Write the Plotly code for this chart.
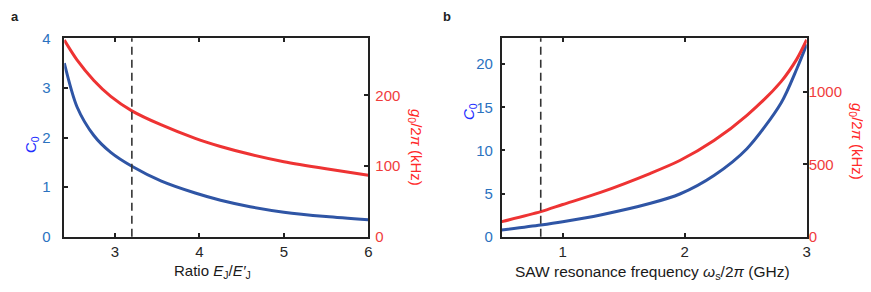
import plotly.graph_objects as go

# ---------------- data ----------------
# panel a: ratio E_J/E'_J
ratio_x = [2.4, 2.55, 2.75, 2.95, 3.2, 3.55, 3.95, 4.25, 4.6, 5.0, 5.5, 6.0]
c0_a = [3.50, 2.62, 2.04, 1.70, 1.42, 1.12, 0.88, 0.735, 0.605, 0.495, 0.405, 0.34]
g0_a = [278, 250, 221, 198.5, 178, 158, 139, 127.5, 116.5, 106, 96, 87]
dash_a = [3.2]

# panel b: SAW resonance frequency (GHz)
freq_x = [0.5, 0.82, 1.0, 1.31, 1.72, 1.96, 2.24, 2.51, 2.79, 2.92, 3.0]
c0_b = [0.78, 1.36, 1.74, 2.52, 3.87, 4.95, 7.1, 10.2, 15.5, 19.5, 22.3]
g0_b = [104, 173, 222, 306, 438, 526, 664, 838, 1071, 1228, 1360]
dash_b = [0.82]

xticks_a = [3, 4, 5, 6]
yticks_a = [0, 1, 2, 3, 4]
y2ticks_a = [0, 100, 200]
xticks_b = [1, 2, 3]
yticks_b = [0, 5, 10, 15, 20]
y2ticks_b = [0, 500, 1000]

# ---------------- style ----------------
BLUE = "#2f55a5"
RED = "#ee3333"
BLUE_T = "#2b72bf"
RED_T = "#f03c3c"
FONT = "Liberation Sans, Arial, sans-serif"
OFF = 8                      # page body margin
W, H = 871 - OFF, 292 - OFF  # figure size that fits the window


def px(x):
    return (x - OFF) / W


def py(y):
    return 1 - (y - OFF) / H


fig = go.Figure()
line_b = dict(color=BLUE, width=3, shape="spline", smoothing=0.8)
line_r = dict(color=RED, width=3, shape="spline", smoothing=0.8)
fig.add_trace(go.Scatter(x=ratio_x, y=c0_a, mode="lines", line=line_b, xaxis="x", yaxis="y", showlegend=False))
fig.add_trace(go.Scatter(x=ratio_x, y=g0_a, mode="lines", line=line_r, xaxis="x", yaxis="y2", showlegend=False))
fig.add_trace(go.Scatter(x=freq_x, y=c0_b, mode="lines", line=line_b, xaxis="x2", yaxis="y3", showlegend=False))
fig.add_trace(go.Scatter(x=freq_x, y=g0_b, mode="lines", line=line_r, xaxis="x2", yaxis="y4", showlegend=False))

# dashed lines
fig.add_shape(type="line", xref="x", yref="y domain", x0=dash_a[0], x1=dash_a[0], y0=0, y1=1,
              line=dict(color="#333333", width=1.6, dash="8px,5px"))
fig.add_shape(type="line", xref="x2", yref="y3 domain", x0=dash_b[0], x1=dash_b[0], y0=0, y1=1,
              line=dict(color="#333333", width=1.6, dash="8px,5px"))

ydom = [py(236.7), py(38.3)]
xdom_a = [px(64.3), px(368.3)]
xdom_b = [px(501.7), px(806.7)]

common_x = dict(showline=True, linecolor="#222222", linewidth=1.5, mirror="ticks", ticks="inside",
                ticklen=4, tickwidth=1.5, tickcolor="#222222", showgrid=False, zeroline=False,
                automargin=False, ticklabelstandoff=1,
                tickfont=dict(family=FONT, size=15, color="#262626"))


def yleft(standoff):
    return dict(showline=True, linecolor="#222222", linewidth=1.5, mirror=True, ticks="inside",
                ticklen=4, tickwidth=1.5, tickcolor="#222222", showgrid=False, zeroline=False,
                automargin=False, ticklabelstandoff=standoff,
                tickfont=dict(family=FONT, size=15, color=BLUE_T))


def yright(standoff):
    return dict(showline=False, ticks="inside", ticklen=4, tickwidth=1.5, tickcolor="#222222",
                showgrid=False, zeroline=False, side="right", automargin=False,
                ticklabelstandoff=standoff, tickfont=dict(family=FONT, size=15, color=RED_T))


fig.update_layout(
    width=W, height=H, margin=dict(l=0, r=0, t=0, b=0, autoexpand=False),
    paper_bgcolor="white", plot_bgcolor="white",
    xaxis=dict(domain=xdom_a, range=[2.4, 6], tickvals=xticks_a, anchor="y", **common_x),
    yaxis=dict(domain=ydom, range=[0, 4], tickvals=yticks_a, anchor="x", **yleft(9)),
    yaxis2=dict(range=[0, 280.6], tickvals=y2ticks_a, overlaying="y", anchor="x", **yright(6)),
    xaxis2=dict(domain=xdom_b, range=[0.5, 3], tickvals=xticks_b, anchor="y3", **common_x),
    yaxis3=dict(domain=ydom, range=[0, 23], tickvals=yticks_b, anchor="x2", **yleft(4)),
    yaxis4=dict(range=[0, 1370], tickvals=y2ticks_b, overlaying="y3", anchor="x2", **yright(1)),
)


def ann(x, y, text, color="#222222", size=15, angle=0):
    fig.add_annotation(x=px(x), y=py(y), xref="paper", yref="paper", text=text, showarrow=False,
                       textangle=angle, font=dict(family=FONT, size=size, color=color),
                       xanchor="center", yanchor="middle")


# panel labels
ann(15, 17, "<b>a</b>", size=13)
ann(447, 17, "<b>b</b>", size=13)
# x titles
ann(212, 271, "Ratio <i>E</i><sub>J</sub>/<i>E′</i><sub>J</sub>", color="#1a1a1a")
ann(652, 272, "SAW resonance frequency <i>ω</i><sub>s</sub>/2<i>π</i> (GHz)", color="#1a1a1a", size=15.5)
# left titles
ann(31, 145, "C<sub>0</sub>", color="#1f2fff", angle=-90)
ann(470, 112, "<i>C</i><sub>0</sub>", color="#1f2fff", angle=-90)
# right titles
ann(416, 147, "<i>g</i><sub>0</sub>/2<i>π</i> (kHz)", color="#ff2a2a", angle=90)
ann(856, 141, "<i>g</i><sub>0</sub>/2<i>π</i> (kHz)", color="#ff2a2a", angle=90)

fig.write_html("out.html")
